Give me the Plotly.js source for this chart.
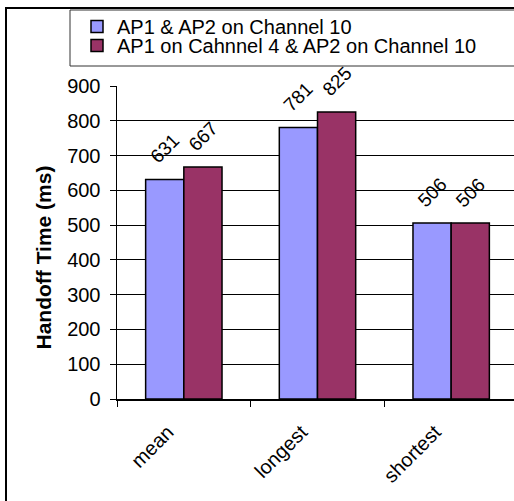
<!DOCTYPE html>
<html><head><meta charset="utf-8">
<script src="https://cdn.plot.ly/plotly-3.0.1.min.js"></script>
<style>html,body{margin:0;padding:0;overflow:hidden;background:#fff}</style>
</head><body><div id="chart"></div>
<script>
const categories = ['mean', 'longest', 'shortest'];
const seriesNames = ['AP1 & AP2 on Channel 10', 'AP1 on Cahnnel 4 & AP2 on Channel 10'];
const series1 = [631, 781, 506];
const series2 = [667, 825, 506];
const yTickVals = [0, 100, 200, 300, 400, 500, 600, 700, 800, 900];
const yTitle = 'Handoff Time (ms)';
const colors = ['#9999FF', '#993366'];

const FONT = 'Arial, "Liberation Sans", sans-serif';
const W = 518, Hh = 501;
const L = 117, T = 86, PW = 401, PH = 313;
const px = x => (x - L) / PW;
const py = y => (T + PH - y) / PH;
const bargap = 1.5 / 3.5;
const off = (1 - bargap) / 4;

const allSeries = [series1, series2];
const traces = allSeries.map((vals, i) => ({
  type: 'bar', x: categories, y: vals, name: seriesNames[i],
  legend: i === 0 ? 'legend' : 'legend2',
  marker: {color: colors[i], line: {color: '#000', width: 1.5}},
  hoverinfo: 'none'
}));

const annotations = [];
allSeries.forEach((vals, i) => {
  vals.forEach((v, j) => {
    annotations.push({
      xref: 'x', yref: 'y', x: j + (i === 0 ? -off : off), y: v,
      xanchor: 'center', yanchor: 'middle',
      text: String(v), showarrow: false, textangle: -45, yshift: 31,
      font: {family: FONT, size: 19, color: '#000'}
    });
  });
});
annotations.push({
  xref: 'paper', yref: 'paper', x: px(42.5), y: py(258), xanchor: 'center', yanchor: 'middle',
  text: '<b>' + yTitle + '</b>',
  showarrow: false, textangle: -90, font: {family: FONT, size: 21, color: '#000'}
});

const legendBase = {
  xanchor: 'left', yanchor: 'top',
  bgcolor: 'rgba(0,0,0,0)', borderwidth: 0,
  font: {family: FONT, size: 20, color: '#000'}
};

const layout = {
  width: W, height: Hh,
  margin: {l: L, r: W - L - PW, t: T, b: Hh - T - PH, autoexpand: false},
  paper_bgcolor: '#fff', plot_bgcolor: '#fff',
  font: {family: FONT, size: 18, color: '#000'},
  barmode: 'group', bargap: bargap, bargroupgap: 0,
  showlegend: true,
  legend: Object.assign({x: px(77), y: py(7)}, legendBase),
  legend2: Object.assign({x: px(77), y: py(26)}, legendBase),
  xaxis: {
    type: 'category', showline: true, linecolor: '#000', linewidth: 1.5,
    ticks: 'outside', ticklen: 6, tickcolor: '#000', tickwidth: 1, tickson: 'boundaries',
    tickangle: -45, showgrid: false, zeroline: false,
    ticklabelstandoff: 12, ticklabelshift: -16,
    tickfont: {family: FONT, size: 20, color: '#000'}
  },
  yaxis: {
    range: [0, 900], tickvals: yTickVals, showline: true, linecolor: '#000', linewidth: 1.5,
    ticks: 'outside', ticklen: 6, tickcolor: '#000', tickwidth: 1,
    showgrid: true, gridcolor: '#000', gridwidth: 1, zeroline: false,
    ticklabelstandoff: 5,
    tickfont: {family: FONT, size: 20, color: '#000'}
  },
  shapes: [
    {type: 'rect', xref: 'paper', yref: 'paper', x0: px(6), x1: px(800), y0: py(8), y1: py(800),
     line: {color: '#000', width: 2}, layer: 'above'},
    {type: 'rect', xref: 'paper', yref: 'paper', x0: px(70), x1: px(800), y0: py(10), y1: py(66),
     line: {color: '#333', width: 1}, layer: 'above'}
  ],
  annotations: annotations
};
Plotly.newPlot('chart', traces, layout, {displayModeBar: false, staticPlot: true});
</script></body></html>
